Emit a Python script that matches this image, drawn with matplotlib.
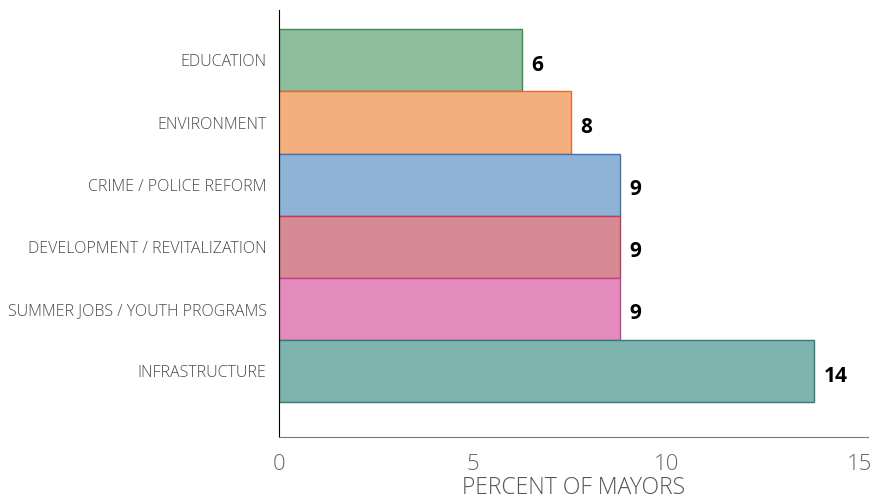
import matplotlib
matplotlib.use("Agg")
import matplotlib.pyplot as plt

categories = ["EDUCATION", "ENVIRONMENT", "CRIME / POLICE REFORM",
              "DEVELOPMENT / REVITALIZATION", "SUMMER JOBS / YOUTH PROGRAMS",
              "INFRASTRUCTURE"]
values = [6.27, 7.53, 8.8, 8.8, 8.8, 13.82]
labels = ["6", "8", "9", "9", "9", "14"]
xticks = [0, 5, 10, 15]

fills = ["#8dbd9b", "#f3af7e", "#8fb2d7", "#d68a93", "#e38bbd", "#7fb3ae"]
edges = ["#3c8a55", "#e8692a", "#3e72b3", "#c23b50", "#c8408f", "#2f7f76"]

plt.rcParams['font.family'] = ['Open Sans', 'DejaVu Sans']

fig = plt.figure(figsize=(8.72, 5.04), dpi=100)
ax = fig.add_axes([0.32, 0.133, 0.675, 0.847])

ypos = list(range(len(categories)))
ax.barh(ypos, values, height=1.0, color=fills, edgecolor=edges, linewidth=1.0)
for y, v, t in zip(ypos, values, labels):
    ax.text(v + 0.25, y + 0.04, t, va="center_baseline", ha="left", fontsize=15,
            fontweight="bold", color="black")

ax.set_ylim(6.06, -0.81)
ax.set_xlim(0, 15.2)
ax.set_yticks(ypos)
ax.set_yticklabels(categories, fontsize=11.5, color="#4a4a4a", fontweight="light")
ax.set_xticks(xticks)
ax.set_xticklabels([str(x) for x in xticks], fontsize=16, color="#666666",
                   fontweight="light")
ax.tick_params(axis="y", length=0, pad=9)
ax.tick_params(axis="x", length=0, pad=12)
ax.set_xlabel("PERCENT OF MAYORS", fontsize=16.5, color="#555555",
              fontweight="light", labelpad=1)

for s in ["top", "right"]:
    ax.spines[s].set_visible(False)
ax.spines["left"].set_color("black")
ax.spines["bottom"].set_color("#777777")

fig.savefig("out.png", dpi=100)
